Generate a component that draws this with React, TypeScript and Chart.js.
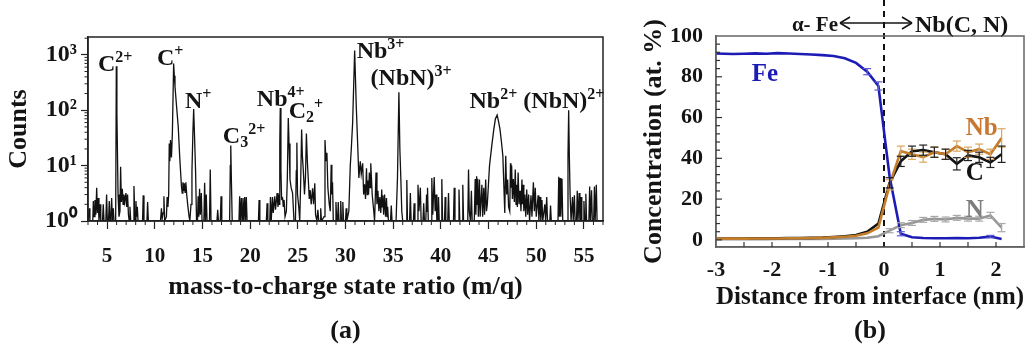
import React, { useEffect, useRef } from 'react';
import { Chart, registerables } from 'chart.js';

Chart.register(...registerables);

const SERIF = "'Liberation Serif', 'Times New Roman', Times, serif";
const INK = '#141414';

// ---------------- Panel (a): mass spectrum ----------------
const spectrum: [number, number][] = [
  [3.0,1],[3.08,1],[3.14,1.7],[3.2,1],
  [3.5,1],[3.56,2.3],[3.64,1.2],[3.73,2.4],[3.82,1.3],[3.91,4.0],[3.99,1.4],[4.07,2.6],[4.15,1],[4.26,2.0],[4.34,1],
  [4.52,1],[4.6,2.0],[4.68,1],
  [4.87,1],[4.95,3.0],[5.03,1],[5.15,1],[5.23,2.3],[5.31,1],[5.4,1.2],[5.48,2.6],[5.56,1],[5.65,1.7],[5.73,1],
  [5.9,1],[5.97,620],[6.03,90],[6.07,29],[6.15,3],[6.25,1.2],
  [6.35,1.5],[6.42,9.5],[6.5,2.2],[6.6,3.8],[6.68,2],[6.77,3.0],[6.86,2.2],[6.98,3.2],[7.06,1.8],[7.15,3.0],[7.24,1.3],[7.32,1],[7.4,1.8],[7.48,1],
  [7.75,1],[7.82,4.3],[7.9,1.3],[7.96,1],[8.03,2.3],[8.1,1.2],[8.17,1.8],[8.25,1],
  [8.72,1],[8.79,2.9],[8.87,1],
  [9.18,1],[9.25,2.2],[9.33,1],
  [10.6,1],[10.7,1.7],[10.78,1.1],[10.88,1.4],[10.96,2.8],[11.04,1],[11.22,1.2],[11.3,2.7],[11.38,1.8],[11.46,3],[11.52,25],[11.58,12],[11.65,29],[11.75,14],[11.85,40],[11.98,700],[12.05,420],[12.12,270],[12.3,110],[12.46,51],[12.62,14],[12.8,4.2],[12.88,3.2],[12.95,5],[13.02,3.5],[13.1,4.8],[13.18,3.3],[13.26,5],[13.35,3],[13.45,2],[13.6,1.2],[13.68,1],
  [13.8,2],[13.9,8],[14.0,40],[14.08,105],[14.18,30],[14.28,8],[14.38,1],
  [14.48,1],[14.55,2.8],[14.62,1.2],[14.7,3.8],[14.78,1.3],[14.88,3.2],[14.96,1],[15.15,1],[15.23,4.9],[15.31,1],[15.4,3.0],[15.48,1],
  [15.74,1],[15.82,8.5],[15.9,1],
  [16.52,1],[16.6,1.6],[16.68,1],[16.87,1],[16.95,2.8],[17.03,1],
  [17.85,1],[17.92,10],[17.97,23],[18.04,5],[18.12,1],
  [18.83,1],[18.9,2.8],[18.98,1],[19.08,2.6],[19.16,1],[19.25,2.6],[19.33,1],[19.43,2.7],[19.51,1],[19.6,2.7],[19.68,1],
  [20.87,1],[20.94,2.4],[21.02,1],
  [21.7,1],[21.78,2.1],[21.86,1],
  [22.06,1],[22.13,2.7],[22.21,1],[22.34,2.7],[22.42,1.4],[22.58,2.8],[22.66,1.6],[22.83,3.2],[22.92,1.8],[23.0,3.0],[23.07,2],[23.11,25],[23.16,110],[23.23,8],[23.3,2.5],[23.4,2.6],[23.48,1.8],[23.56,2.4],[23.66,1.2],[23.8,1.5],[23.9,6],[24.0,72],[24.08,25],[24.18,5.6],[24.3,4],[24.45,3.2],[24.6,1],
  [24.75,1],[24.84,8],[24.9,26],[24.97,3],[25.1,1.8],[25.2,1],[25.3,5],[25.4,45],[25.48,15],[25.58,8],[25.7,3],[25.8,6],[25.9,38],[26.0,12],[26.1,5.6],[26.2,2.5],[26.3,3.6],[26.4,2],[26.55,3.9],[26.65,2],[26.78,4.8],[26.86,1.3],[27.0,1],[27.1,1.6],[27.2,1],[27.33,1],[27.4,1.7],[27.48,1],
  [27.75,1.2],[27.85,29],[27.95,12],[28.05,17],[28.15,4],[28.3,2],[28.4,1.5],[28.5,10.4],[28.57,3],[28.64,5],[28.72,1],
  [28.93,1],[29.0,2.2],[29.08,1],[29.17,1],[29.24,2.2],[29.32,1],[29.45,1],[29.5,2.3],[29.58,1],[29.66,1],[29.72,2.2],[29.8,1],
  [30.0,1],[30.07,1.7],[30.14,1],[30.35,1.5],[30.5,10],[30.6,19],[30.75,60],[30.96,1200],[31.13,117],[31.3,19],[31.4,6],[31.55,12],[31.65,7],[31.8,11],[31.9,3],[32.0,4.6],[32.1,2.5],[32.2,9],[32.28,3],[32.35,5.4],[32.42,3],[32.5,7.5],[32.58,4],[32.65,11],[32.8,3],[32.95,1.6],[33.05,1],[33.2,7.5],[33.3,2],[33.4,3.5],[33.5,1.5],[33.6,2.7],[33.7,1.4],[33.8,3.7],[33.85,1.8],[33.92,2.9],[34.0,1.3],[34.1,3],[34.2,1.2],[34.3,2.6],[34.36,1.2],[34.42,1.8],[34.5,1],[34.72,1],[34.8,1.9],[34.88,1],
  [35.3,1],[35.45,6],[35.6,210],[35.7,20],[35.8,6],[35.9,1.5],[36.0,1],
  [36.35,1],[36.43,5.5],[36.5,1],[36.72,1],[36.8,3.2],[36.88,1],[37.12,1],[37.2,2.1],[37.28,1],[37.52,1],[37.6,4.5],[37.7,1.5],[37.85,4],[37.93,1],[38.12,1],[38.2,2.1],[38.28,1],[38.42,1],[38.5,3],[38.55,1.5],[38.6,4],[38.68,1],[38.98,1],[39.05,6],[39.15,1.3],[39.3,6.2],[39.4,1.5],[39.5,3],[39.58,1],[39.68,1],[39.75,2.7],[39.83,1],[40.02,1],[40.1,5.7],[40.18,1],[40.38,1],[40.45,2.7],[40.52,1],[40.72,1],[40.8,3.2],[40.88,1],[41.32,1],[41.4,4],[41.48,1],[41.82,1],[41.9,3.7],[41.98,1],[42.22,1],[42.3,4.5],[42.38,1],[42.82,1],[42.9,8.5],[42.98,1.5],[43.1,1],[43.2,3.5],[43.28,1],[43.5,1],[43.6,5.7],[43.67,1.3],[43.75,6.4],[43.8,2],[43.86,5.8],[43.93,1.2],[44.05,5.6],[44.12,1.2],[44.3,4.5],[44.38,1.2],[44.5,4],[44.58,1.3],[44.7,5.6],[44.78,1.5],[44.87,2],
  [45.1,10],[45.35,24],[45.55,45],[45.72,70],[45.9,82],[46.05,62],[46.2,45],[46.35,27],[46.5,15],[46.6,4.5],[46.7,1.4],[46.8,15],[46.9,3],[47.0,5.6],[47.1,1.8],[47.22,1.5],[47.3,11],[47.35,4],[47.42,10],[47.5,2.5],[47.6,5.7],[47.7,2.2],[47.8,8.5],[47.88,2],[47.95,4.5],[48.02,1.8],[48.1,7.5],[48.2,2],[48.3,3.5],[48.4,1.5],[48.5,5.6],[48.55,2],[48.62,4.5],[48.7,1.5],[48.8,3],[48.9,1.2],[49.0,3.7],[49.1,1.3],[49.2,3],[49.3,1],[49.45,2.9],[49.55,1.2],[49.7,5],[49.8,1.5],[49.9,4],[50.0,1.2],[50.2,2.9],[50.28,1],[50.4,2.7],[50.48,1],[50.6,2.4],[50.68,1],[50.9,2],[50.98,1],[51.1,2.7],[51.18,1],[51.42,1],[51.5,1.9],[51.58,1],
  [52.28,1],[52.36,6.3],[52.43,1.2],[52.5,6],[52.58,1.2],[52.7,5.8],[52.78,1],[53.25,1],[53.33,15],[53.4,100],[53.47,15],[53.55,3],[53.65,1],[53.73,1],[53.8,2.7],[53.88,1],[53.93,1],[54.0,2.9],[54.08,1],[54.22,1],[54.3,3.5],[54.38,1],[54.43,1],[54.5,3.2],[54.58,1],[54.63,1],[54.7,2.7],[54.78,1],[54.93,1],[55.0,2.3],[55.08,1],[55.13,1],[55.2,3.1],[55.28,1],[55.52,1],[55.6,4.2],[55.68,1],[55.73,1],[55.8,3.6],[55.88,1],[56.02,1],[56.1,4.2],[56.18,1],[56.23,1],[56.3,4.5],[56.38,1],[57,1],
];
const massTicks = [5, 10, 15, 20, 25, 30, 35, 40, 45, 50, 55];
const countTicks = [1, 10, 100, 1000];
const countTickLabels = ['10\u2070', '10\u00B9', '10\u00B2', '10\u00B3'];

type Part = { t: string; k?: 'sup' | 'sub' };
const peakLabels: { mz: number; counts: number; parts: Part[] }[] = [
  { mz: 4.05, counts: 515, parts: [{ t: 'C' }, { t: '2+', k: 'sup' }] },
  { mz: 10.23, counts: 660, parts: [{ t: 'C' }, { t: '+', k: 'sup' }] },
  { mz: 13.16, counts: 111, parts: [{ t: 'N' }, { t: '+', k: 'sup' }] },
  { mz: 17.14, counts: 26, parts: [{ t: 'C' }, { t: '3', k: 'sub' }, { t: '2+', k: 'sup' }] },
  { mz: 20.7, counts: 120, parts: [{ t: 'Nb' }, { t: '4+', k: 'sup' }] },
  { mz: 24.05, counts: 73, parts: [{ t: 'C' }, { t: '2', k: 'sub' }, { t: '+', k: 'sup' }] },
  { mz: 31.17, counts: 883, parts: [{ t: 'Nb' }, { t: '3+', k: 'sup' }] },
  { mz: 32.63, counts: 288, parts: [{ t: '(NbN)' }, { t: '3+', k: 'sup' }] },
  { mz: 43.0, counts: 111, parts: [{ t: 'Nb' }, { t: '2+', k: 'sup' }] },
  { mz: 48.65, counts: 111, parts: [{ t: '(NbN)' }, { t: '2+', k: 'sup' }] },
];

// ---------------- Panel (b): concentration profiles ----------------
const distance = [-3.0,-2.7,-2.5,-2.3,-2.1,-1.9,-1.7,-1.5,-1.3,-1.1,-0.9,-0.7,-0.5,-0.3,-0.1,0.1,0.3,0.5,0.7,0.9,1.1,1.3,1.5,1.7,1.9,2.1];
const feConc = [91.4,91.2,91.3,91.5,91.3,91.6,91.4,91.2,90.9,90.6,90.2,89.1,86.8,82.5,75.5,31,3,1.3,0.9,0.8,0.8,0.9,0.8,1.0,1.6,0.4];
const nbConc = [0.6,0.6,0.6,0.7,0.7,0.7,0.8,0.8,0.9,1.0,1.2,1.5,2.0,3.2,6,27,43.5,42,40.6,43,42,46,43,44.5,42,50];
const cConc = [0.7,0.7,0.7,0.8,0.8,0.8,0.9,0.9,1.0,1.1,1.4,1.8,2.4,4,8,28,38.5,43.5,44,43,42,37.3,41.4,40.5,38,42];
const nConc = [0.3,0.3,0.3,0.3,0.3,0.4,0.4,0.4,0.5,0.5,0.6,0.7,0.8,1.0,1.8,4.5,7.2,8.3,9.8,10.3,10,10.8,10.4,10.4,12,6];
const feErr = [0,0,0,0,0,0,0,0,0,0,0,0,0,1.5,2,0,1,0,0,0,0,0,0,0,0.6,0];
const nbErr = [0,0,0,0,0,0,0,0,0,0,0,0,0,0,0,2.5,2.5,2.5,2.5,2.5,2.5,2.5,2.5,2.5,2.5,4.5];
const cErr = [0,0,0,0,0,0,0,0,0,0,0,0,0,0,0,2.5,2.5,2.5,2.5,2.5,2.5,3,2.5,2.5,2.5,4];
const nErr = [0,0,0,0,0,0,0,0,0,0,0,0,0,0,0,1,1.2,1.2,1.2,1.2,1.2,1.2,1.2,1.2,1.5,2];
const distanceTicks = [-3, -2, -1, 0, 1, 2];
const concTicks = [0, 20, 40, 60, 80, 100];

const FE_COLOR = '#1c1cb4';
const NB_COLOR = '#c37d2b';
const C_COLOR = '#121212';
const N_COLOR = '#979797';

function drawRich(ctx: CanvasRenderingContext2D, x: number, y: number, parts: Part[], base: number, small: number) {
  let cx = x;
  for (const p of parts) {
    const size = p.k ? small : base;
    ctx.font = `bold ${size}px ${SERIF}`;
    const dy = p.k === 'sup' ? -base * 0.37 : p.k === 'sub' ? base * 0.17 : 0;
    ctx.fillText(p.t, cx, y + dy);
    cx += ctx.measureText(p.t).width;
  }
}

function seg(ctx: CanvasRenderingContext2D, x1: number, y1: number, x2: number, y2: number) {
  ctx.beginPath();
  ctx.moveTo(x1, y1);
  ctx.lineTo(x2, y2);
  ctx.stroke();
}

const panelADecor = {
  id: 'panelADecor',
  afterDraw(chart: any) {
    const { ctx, chartArea: ca, scales } = chart;
    const x = scales.x;
    const y = scales.y;
    ctx.save();
    ctx.strokeStyle = '#222';
    ctx.lineWidth = 1.5;
    ctx.strokeRect(ca.left, ca.top, ca.right - ca.left, ca.bottom - ca.top);
    ctx.lineWidth = 1;
    for (let v = Math.ceil(x.min); v <= x.max; v++) {
      if (v % 5 === 0) continue;
      const px = x.getPixelForValue(v);
      seg(ctx, px, ca.bottom, px, ca.bottom + 4);
    }
    for (const dec of countTicks) {
      for (let m = 2; m <= 9; m++) {
        const v = dec * m;
        if (v > y.max) break;
        const py = y.getPixelForValue(v);
        seg(ctx, ca.left - 3.5, py, ca.left, py);
      }
    }
    ctx.fillStyle = INK;
    ctx.textAlign = 'left';
    ctx.textBaseline = 'alphabetic';
    for (const lab of peakLabels) {
      drawRich(ctx, x.getPixelForValue(lab.mz), y.getPixelForValue(lab.counts), lab.parts, 24, 16);
    }
    ctx.font = `bold 26px ${SERIF}`;
    ctx.textAlign = 'center';
    ctx.textBaseline = 'middle';
    ctx.fillText('(a)', (ca.left + ca.right) / 2, 331);
    ctx.restore();
  },
};

const errorSets = [
  { values: feConc, err: feErr, color: '#5b5bd0' },
  { values: nbConc, err: nbErr, color: '#d9a660' },
  { values: cConc, err: cErr, color: '#222' },
  { values: nConc, err: nErr, color: '#a8a8a8' },
];

const panelBDecor = {
  id: 'panelBDecor',
  beforeDatasetsDraw(chart: any) {
    const { ctx, chartArea: ca, scales } = chart;
    const px = scales.x.getPixelForValue(0);
    ctx.save();
    ctx.strokeStyle = '#111';
    ctx.lineWidth = 2;
    ctx.setLineDash([6, 5]);
    seg(ctx, px, 0, px, ca.bottom);
    ctx.restore();
  },
  afterDatasetsDraw(chart: any) {
    const { ctx, scales } = chart;
    const x = scales.x;
    const y = scales.y;
    ctx.save();
    ctx.lineWidth = 1.2;
    for (const s of errorSets) {
      ctx.strokeStyle = s.color;
      s.err.forEach((e, i) => {
        if (!e) return;
        const px = x.getPixelForValue(distance[i]);
        const y1 = y.getPixelForValue(s.values[i] + e);
        const y2 = y.getPixelForValue(s.values[i] - e);
        seg(ctx, px, y1, px, y2);
        seg(ctx, px - 4, y1, px + 4, y1);
        seg(ctx, px - 4, y2, px + 4, y2);
      });
    }
    ctx.textAlign = 'left';
    ctx.textBaseline = 'alphabetic';
    ctx.font = `bold 25px ${SERIF}`;
    const lbl = (t: string, xv: number, yv: number, c: string) => {
      ctx.fillStyle = c;
      ctx.fillText(t, x.getPixelForValue(xv), y.getPixelForValue(yv));
    };
    lbl('Fe', -2.36, 78, FE_COLOR);
    lbl('Nb', 1.46, 51.5, '#c8772f');
    lbl('C', 1.46, 29.5, C_COLOR);
    lbl('N', 1.46, 11, '#7d7d7d');
    ctx.restore();
  },
  afterDraw(chart: any) {
    const { ctx, chartArea: ca, scales } = chart;
    const x = scales.x;
    const y = scales.y;
    ctx.save();
    ctx.strokeStyle = '#666';
    ctx.lineWidth = 1.5;
    ctx.strokeRect(ca.left, ca.top, ca.right - ca.left, ca.bottom - ca.top);
    ctx.strokeStyle = '#333';
    ctx.lineWidth = 1.2;
    for (let v = -2.5; v <= 2.01; v += 0.5) {
      const px = x.getPixelForValue(v);
      seg(ctx, px, ca.bottom, px, ca.bottom - 5);
    }
    for (let v = 0; v <= 96; v += 4) {
      const py = y.getPixelForValue(v);
      seg(ctx, ca.left, py, ca.left + (v % 20 === 0 ? 6 : 4), py);
    }
    // interface annotation
    const x0 = x.getPixelForValue(0);
    const ay = 23;
    ctx.fillStyle = INK;
    ctx.textBaseline = 'alphabetic';
    ctx.font = `bold 21px ${SERIF}`;
    ctx.textAlign = 'right';
    ctx.fillText('\u03B1- Fe', x0 - 46, 31);
    ctx.font = `bold 24px ${SERIF}`;
    ctx.textAlign = 'left';
    ctx.fillText('Nb(C, N)', x0 + 31, 32);
    ctx.strokeStyle = INK;
    ctx.lineWidth = 1.5;
    const xl = x0 - 44;
    const xr = x0 + 28;
    seg(ctx, xl, ay, xr, ay);
    seg(ctx, xl, ay, xl + 10, ay - 6);
    seg(ctx, xl, ay, xl + 10, ay + 6);
    seg(ctx, xr, ay, xr - 10, ay - 6);
    seg(ctx, xr, ay, xr - 10, ay + 6);
    ctx.font = `bold 26px ${SERIF}`;
    ctx.textAlign = 'center';
    ctx.textBaseline = 'middle';
    ctx.fillText('(b)', (ca.left + ca.right) / 2, 331);
    ctx.restore();
  },
};

const tickFont = (size: number) => ({ family: SERIF, size, weight: 'bold' as const });

export default function App() {
  const aRef = useRef<HTMLCanvasElement>(null);
  const bRef = useRef<HTMLCanvasElement>(null);

  useEffect(() => {
    const chartA = new Chart(aRef.current as HTMLCanvasElement, {
      type: 'line',
      data: {
        datasets: [
          {
            data: spectrum.map(([mz, c]) => ({ x: mz, y: c })),
            borderColor: '#111',
            borderWidth: 1.3,
            pointRadius: 0,
            tension: 0,
            fill: false,
          },
        ],
      },
      options: {
        animation: false,
        responsive: false,
        events: [],
        layout: { padding: { left: 0, top: 37, right: 17, bottom: 0 } },
        plugins: { legend: { display: false }, tooltip: { enabled: false } },
        scales: {
          x: {
            type: 'linear',
            min: 3,
            max: 57,
            afterBuildTicks: (s: any) => { s.ticks = massTicks.map((v) => ({ value: v })); },
            afterFit: (s: any) => { s.height = 128; },
            ticks: { font: tickFont(21), color: INK, padding: 15, maxRotation: 0, autoSkip: false },
            grid: { drawOnChartArea: false, drawTicks: true, tickLength: 8, color: '#222', tickWidth: 1.2 },
            border: { color: '#222', width: 1.5 },
            title: { display: true, text: 'mass-to-charge state ratio (m/q)', font: tickFont(26), color: INK, padding: { top: 0, bottom: 46 } },
          },
          y: {
            type: 'logarithmic',
            min: 1,
            max: 2100,
            afterBuildTicks: (s: any) => { s.ticks = countTicks.map((v) => ({ value: v, major: true })); },
            afterFit: (s: any) => { s.width = 88; },
            ticks: {
              font: tickFont(24),
              color: INK,
              padding: 4,
              autoSkip: false,
              callback: (v: any) => {
                const i = countTicks.indexOf(Number(v));
                return i >= 0 ? countTickLabels[i] : '';
              },
            },
            grid: { drawOnChartArea: false, drawTicks: true, tickLength: 7, color: '#222', tickWidth: 1.2 },
            border: { color: '#222', width: 1.5 },
            title: { display: true, text: 'Counts', font: tickFont(26), color: INK, padding: { top: 4, bottom: 0 } },
          },
        },
      } as any,
      plugins: [panelADecor],
    });

    const mk = (vals: number[], color: string, order: number) => ({
      data: distance.map((d, i) => ({ x: d, y: vals[i] })),
      borderColor: color,
      backgroundColor: color,
      borderWidth: 2.6,
      pointRadius: 0,
      tension: 0,
      fill: false,
      order,
    });

    const chartB = new Chart(bRef.current as HTMLCanvasElement, {
      type: 'line',
      data: {
        datasets: [
          { label: 'Fe', ...mk(feConc, FE_COLOR, 0) },
          { label: 'Nb', ...mk(nbConc, NB_COLOR, 1) },
          { label: 'C', ...mk(cConc, C_COLOR, 2) },
          { label: 'N', ...mk(nConc, N_COLOR, 3) },
        ],
      },
      options: {
        animation: false,
        responsive: false,
        events: [],
        layout: { padding: { left: 0, top: 36, right: 8, bottom: 0 } },
        plugins: { legend: { display: false }, tooltip: { enabled: false } },
        scales: {
          x: {
            type: 'linear',
            min: -3,
            max: 2.5,
            afterBuildTicks: (s: any) => { s.ticks = distanceTicks.map((v) => ({ value: v })); },
            afterFit: (s: any) => { s.height = 102; },
            ticks: { font: tickFont(22), color: INK, padding: 10, maxRotation: 0, autoSkip: false },
            grid: { drawOnChartArea: false, drawTicks: false },
            border: { color: '#555', width: 1.5 },
            title: { display: true, text: 'Distance from interface (nm)', font: tickFont(26), color: INK, padding: { top: 0, bottom: 36 } },
          },
          y: {
            type: 'linear',
            min: -3.5,
            max: 100,
            afterBuildTicks: (s: any) => { s.ticks = concTicks.map((v) => ({ value: v })); },
            afterFit: (s: any) => { s.width = 96; },
            ticks: { font: tickFont(22), color: INK, padding: 13, autoSkip: false },
            grid: { drawOnChartArea: false, drawTicks: false },
            border: { color: '#555', width: 1.5 },
            title: { display: true, text: 'Concentration (at. %)', font: tickFont(26), color: INK, padding: { top: 19, bottom: 0 } },
          },
        },
      } as any,
      plugins: [panelBDecor],
    });

    return () => {
      chartA.destroy();
      chartB.destroy();
    };
  }, []);

  return (
    <div style={{ position: 'absolute', left: 0, top: 0, width: 1032, height: 349, background: '#fff', overflow: 'hidden' }}>
      <canvas ref={aRef} width={620} height={349} style={{ position: 'absolute', left: 0, top: 0 }} />
      <canvas ref={bRef} width={412} height={349} style={{ position: 'absolute', left: 620, top: 0 }} />
    </div>
  );
}
